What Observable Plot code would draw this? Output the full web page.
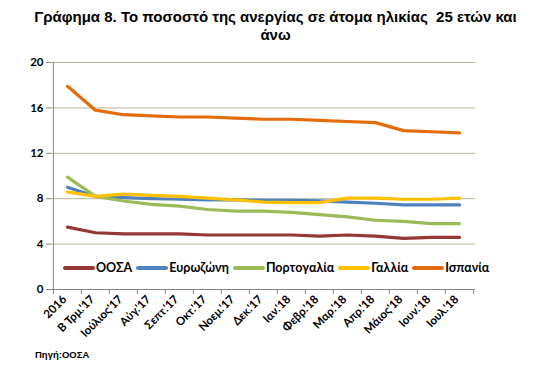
<!DOCTYPE html>
<html>
<head>
<meta charset="utf-8">
<script src="https://cdn.jsdelivr.net/npm/d3@7"></script>
<script src="https://cdn.jsdelivr.net/npm/@observablehq/plot@0.6"></script>
<style>
  html, body { margin: 0; padding: 0; background: #fff; }
  #wrap { position: relative; width: 551px; height: 375px; overflow: hidden; }
  #title { position: absolute; left: 0; top: 8px; width: 551px; text-align: center;
    font: bold 15px "Liberation Sans", Arial, sans-serif; line-height: 18px; color: #000; }
  #legend { position: absolute; left: 63px; top: 260px; display: flex; align-items: center;
    font: bold 12.5px Lato, "Open Sans", sans-serif; color: #000; }
  .item { display: flex; align-items: center; margin-right: 4px; }
  .sw { width: 32px; height: 4px; border-radius: 2px; margin-right: 1px; }
  #caption { position: absolute; left: 35px; top: 349px; font: bold 9.5px "Liberation Sans", Arial, sans-serif; color: #000; }
  #chart { position: absolute; left: 0; top: 0; }
</style>
</head>
<body>
<div id="wrap">
  <div id="chart"></div>
  <div id="title">Γράφημα 8. Το ποσοστό της ανεργίας σε άτομα ηλικίας&nbsp; 25 ετών και<br>άνω</div>
  <div id="legend"></div>
  <div id="caption">Πηγή:ΟΟΣΑ</div>
</div>
<script>
const categories = ["2016","Β Τρμ.'17","Ιούλιος'17","Αύγ.'17","Σεπτ.'17","Οκτ.'17","Νοεμ.'17","Δεκ.'17","Ιαν.'18","Φεβρ.'18","Μαρ.'18","Απρ.'18","Μάιος'18","Ιουν.'18","Ιουλ.'18"];
const seriesNames = ["ΟΟΣΑ","Ευρωζώνη","Πορτογαλία","Γαλλία","Ισπανία"];
const seriesColors = ["#953735","#4F81BD","#9BBB59","#FFC000","#E46C0A"];
const oosa      = [5.5,5.0,4.9,4.9,4.9,4.8,4.8,4.8,4.8,4.7,4.8,4.7,4.5,4.6,4.6];
const eurozone  = [9.0,8.2,8.1,8.0,7.95,7.9,7.9,7.85,7.85,7.8,7.7,7.6,7.45,7.45,7.45];
const portugal  = [9.9,8.2,7.8,7.5,7.35,7.05,6.9,6.9,6.8,6.6,6.4,6.1,6.0,5.8,5.8];
const france    = [8.6,8.2,8.4,8.3,8.2,8.05,7.9,7.7,7.65,7.65,8.05,8.05,7.95,7.95,8.05];
const spain     = [17.9,15.8,15.4,15.3,15.2,15.2,15.1,15.0,15.0,14.9,14.8,14.7,14.0,13.9,13.8];
const yTicks = [0,4,8,12,16,20];

const allSeries = [oosa, eurozone, portugal, france, spain];
const rows = [];
allSeries.forEach((vals, si) => vals.forEach((v, i) => rows.push({series: seriesNames[si], cat: categories[i], value: v})));

const W = 551, H = 375, ml = 51, mr = 76, mt = 62, mb = 86;
const step = (W - ml - mr) / categories.length;
const gray = "#868686";

const chart = Plot.plot({
  width: W, height: H,
  marginLeft: ml, marginRight: mr, marginTop: mt, marginBottom: mb,
  style: {fontFamily: "Lato, 'Open Sans', sans-serif", fontSize: "11px", fontWeight: "bold", color: "#000", background: "transparent"},
  x: {type: "point", domain: categories, padding: 0.5},
  y: {domain: [0, 20]},
  color: {domain: seriesNames, range: seriesColors},
  marks: [
    Plot.ruleY(yTicks.filter(d => d > 0), {y: d => d, stroke: "#b9b59f", strokeWidth: 1}),
    Plot.ruleX([categories[0]], {x: d => d, dx: -step / 2, stroke: gray}),
    Plot.ruleY([0], {y: d => d, stroke: gray}),
    Plot.ruleX(categories, {x: d => d, y1: 0, y2: -0.45, dx: -step / 2, stroke: gray}),
    Plot.ruleX([categories[categories.length - 1]], {x: d => d, y1: 0, y2: -0.45, dx: step / 2, stroke: gray}),
    Plot.axisY({ticks: yTicks, tickSize: 5, tickPadding: 3, stroke: gray, label: null, fontSize: 11.5}),
    Plot.axisX({tickSize: 0, tickRotate: -45, tickPadding: 8, label: null, fontSize: 11.5, dx: -3}),
    Plot.line(rows, {x: "cat", y: "value", z: "series", stroke: "series", strokeWidth: 3.2, strokeLinejoin: "round", strokeLinecap: "round"})
  ]
});
document.getElementById("chart").appendChild(chart);

const legend = document.getElementById("legend");
seriesNames.forEach((name, i) => {
  const it = document.createElement("div");
  it.className = "item";
  const sw = document.createElement("span");
  sw.className = "sw";
  sw.style.background = seriesColors[i];
  const tx = document.createElement("span");
  tx.textContent = name;
  it.appendChild(sw); it.appendChild(tx);
  legend.appendChild(it);
});
</script>
</body>
</html>
